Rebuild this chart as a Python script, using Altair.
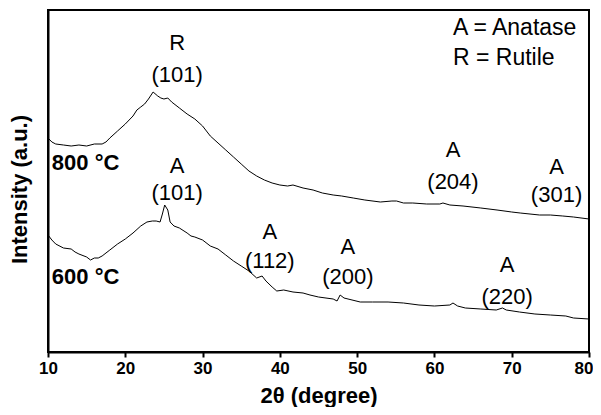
import altair as alt
import pandas as pd

# 800 °C pattern (2θ, intensity a.u.)
x800 = [10, 10.5, 11, 12, 13, 14, 15, 16, 17, 17.5, 18, 19, 20, 21, 21.5, 22, 22.5, 23, 23.6, 24.2,
        24.6, 25, 25.5, 26, 27, 28, 29, 30, 30.5, 31, 32, 33, 34, 35, 36, 37, 38, 39, 40, 41,
        41.7, 43, 44.3, 45.5, 46.9, 48, 49.5, 51, 53, 54.5, 55.1, 56, 57.2, 59, 60.7, 61.1, 62, 63.7, 66, 68.1,
        70, 71.1, 73.6, 75, 76.6, 78, 80]
y800 = [214, 210, 208, 207, 206, 207, 206, 208, 208, 210, 214, 221, 228, 236, 242, 245, 248, 253, 260, 256,
        254, 253, 254, 250, 244, 238, 233, 226, 221, 216, 209, 202, 195, 188, 181, 176, 172, 169, 167, 166,
        167, 164, 162, 159, 157, 156, 154, 152, 150, 151, 151, 149, 149, 148, 148, 149, 147, 146, 144, 142,
        140, 139, 137, 137, 136, 135, 133]

# 600 °C pattern
x600 = [10, 10.5, 11, 12, 13, 13.5, 14, 15, 15.5, 16, 16.5, 17, 18, 19, 20, 21, 22, 22.8, 23.5, 24,
        24.5, 24.8, 25.1, 25.5, 25.8, 26.3, 27, 28, 28.5, 29, 30, 31, 32, 33, 34, 35, 36, 37, 37.7, 38.2,
        39, 39.6, 40.5, 41.7, 43, 43.9, 45, 46.9, 47.4, 47.8, 48.3, 50.4, 52, 54, 56, 58, 60, 62, 62.4, 63,
        64, 66, 68, 68.8, 69.3, 71, 73, 75, 77, 78, 80]
y600 = [117, 112, 108, 104, 103, 100, 98, 95, 92, 94, 94, 96, 102, 108, 113, 119, 126, 130, 131, 131,
        130, 138, 147, 142, 130, 126, 124, 119, 116, 115, 112, 106, 103, 97, 91, 86, 81, 74, 76, 71,
        65, 61, 62, 60, 59, 57, 55, 53, 51, 57, 54, 50, 50, 50, 49, 47, 46, 47, 49, 46,
        44, 43, 42, 44, 42, 40, 38, 37, 36, 34, 33]

# peak annotations
ann_text = ["R", "(101)", "A", "(101)", "A", "(204)", "A", "(301)",
            "A", "(112)", "A", "(200)", "A", "(220)"]
ann_x = [26.7, 26.7, 26.7, 26.7, 62.4, 62.4, 75.8, 75.8,
         38.7, 38.7, 48.8, 48.8, 69.4, 69.4]
ann_y = [309, 277, 186, 159, 202, 170, 185, 157,
         120, 91, 105, 75, 87, 55]

# sample temperature labels
temp_text = ["800 °C", "600 °C"]
temp_x = [10.5, 10.5]
temp_y = [189, 75]

# legend-like key
key_text = ["A = Anatase", "R = Rutile"]
key_x = [62.4, 62.4]
key_y = [324, 294]

X_MIN, X_MAX = 10, 80
Y_MIN, Y_MAX = 0, 342

# top and right edges of the plot frame, as a polyline in data units
frame_x = [X_MIN, X_MAX, X_MAX]
frame_y = [Y_MAX, Y_MAX, Y_MIN]

FONT = "Liberation Sans"

df = pd.concat([
    pd.DataFrame({"x": x800, "y": y800, "s": "800"}),
    pd.DataFrame({"x": x600, "y": y600, "s": "600"}),
])
ann = pd.DataFrame({"t": ann_text, "x": ann_x, "y": ann_y})
temps = pd.DataFrame({"t": temp_text, "x": temp_x, "y": temp_y})
keys = pd.DataFrame({"t": key_text, "x": key_x, "y": key_y})
frame = pd.DataFrame({"x": frame_x, "y": frame_y, "o": [0, 1, 2]})

xs = alt.Scale(domain=[X_MIN, X_MAX], nice=False, zero=False)
ys = alt.Scale(domain=[Y_MIN, Y_MAX], nice=False, zero=False)

xaxis = alt.Axis(values=[10, 20, 30, 40, 50, 60, 70, 80], title="2θ (degree)",
                 labelFont=FONT, labelFontSize=17, labelFontWeight="bold", labelColor="black",
                 labelAlign={"condition": {"test": "datum.value >= 80", "value": "right"}, "value": "center"},
                 labelOffset={"condition": {"test": "datum.value >= 80", "value": 4}, "value": 0},
                 titleFont=FONT, titleFontSize=22, titleFontWeight="bold", titleColor="black",
                 domainColor="black", domainWidth=2, tickColor="black", tickWidth=2, tickSize=5,
                 labelPadding=3, titlePadding=9, grid=False, labelFlush=False)
yaxis = alt.Axis(labels=False, ticks=False, title="Intensity (a.u.)",
                 titleFont=FONT, titleFontSize=22, titleFontWeight="bold", titleColor="black",
                 domainColor="black", domainWidth=2, titlePadding=17, titleY=179, grid=False)

lines = alt.Chart(df).mark_line(color="black", strokeWidth=1).encode(
    x=alt.X("x:Q", scale=xs, axis=xaxis),
    y=alt.Y("y:Q", scale=ys, axis=yaxis),
    detail="s:N",
)

frame_layer = alt.Chart(frame).mark_line(color="black", strokeWidth=2).encode(
    x=alt.X("x:Q", scale=xs),
    y=alt.Y("y:Q", scale=ys),
    order="o:Q",
)

ann_layer = alt.Chart(ann).mark_text(font=FONT, fontSize=22, color="black",
                                     align="center", baseline="middle").encode(
    x=alt.X("x:Q", scale=xs), y=alt.Y("y:Q", scale=ys), text="t:N")

temp_layer = alt.Chart(temps).mark_text(font=FONT, fontSize=22, fontWeight="bold", color="black",
                                        align="left", baseline="middle").encode(
    x=alt.X("x:Q", scale=xs), y=alt.Y("y:Q", scale=ys), text="t:N")

key_layer = alt.Chart(keys).mark_text(font=FONT, fontSize=23, color="black",
                                      align="left", baseline="middle").encode(
    x=alt.X("x:Q", scale=xs), y=alt.Y("y:Q", scale=ys), text="t:N")

chart = alt.layer(lines, frame_layer, ann_layer, temp_layer, key_layer).properties(
    width=541, height=342,
    background="white",
    autosize=alt.AutoSizeParams(type="none"),
    padding={"left": 40, "top": 2, "right": 4, "bottom": 55},
).configure_view(stroke="black", strokeWidth=2)

chart.save("out.html", embed_options={"renderer": "svg", "actions": False})
